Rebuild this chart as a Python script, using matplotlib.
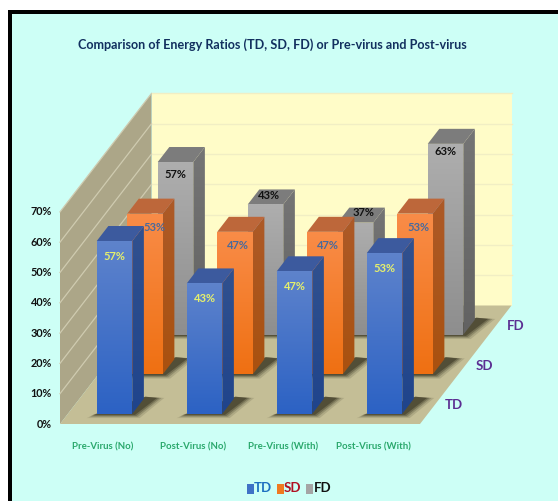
import numpy as np
import matplotlib
matplotlib.use("Agg")
import matplotlib.pyplot as plt
from matplotlib.patches import Polygon, Rectangle
from matplotlib.colors import LinearSegmentedColormap

categories = ["Pre-Virus (No)", "Post-Virus (No)", "Pre-Virus (With)", "Post-Virus (With)"]
series_names = ["TD", "SD", "FD"]
td_values = [57, 43, 47, 53]
sd_values = [53, 47, 47, 53]
fd_values = [57, 43, 37, 63]
y_ticks = [0, 10, 20, 30, 40, 50, 60, 70]
title = "Comparison of Energy Ratios (TD, SD, FD) or Pre-virus and Post-virus"

plt.rcParams["font.family"] = ["Lato", "DejaVu Sans"]
plt.rcParams["font.weight"] = "bold"

W, H = 558, 501
fig = plt.figure(figsize=(W / 100, H / 100), dpi=100, facecolor="white")
ax = fig.add_axes([0, 0, 1, 1])
ax.axis("off")

X0, Y0, CAT_W, DEPTH_X, DEPTH_Y, PCT = 60, 424, 90, 30.5, 39.5, 3.03
VMAX = 70


def P(c, d, v=0):
    return (X0 + c * CAT_W + d * DEPTH_X, Y0 - d * DEPTH_Y - v * PCT)


def poly(pts, color, z, **kw):
    p = Polygon(pts, closed=True, facecolor=color, edgecolor="none", zorder=z, **kw)
    ax.add_patch(p)
    return p


def grad_poly(pts, top, bottom, z):
    p = poly(pts, "none", z)
    pts = np.array(pts)
    cmap = LinearSegmentedColormap.from_list("g", [top, bottom])
    im = ax.imshow(np.linspace(0, 1, 128).reshape(-1, 1), cmap=cmap, aspect="auto",
                   extent=(pts[:, 0].min(), pts[:, 0].max(), pts[:, 1].max(), pts[:, 1].min()),
                   origin="upper", zorder=z, interpolation="bilinear")
    im.set_clip_path(p)


# background and frame
ax.add_patch(Rectangle((8, 10), W, H, facecolor="#cdfff6", edgecolor="none", zorder=0))
ax.add_patch(Rectangle((8, 10), W, 4, facecolor="black", edgecolor="none", zorder=1))
ax.add_patch(Rectangle((8, 10), 3.5, H, facecolor="black", edgecolor="none", zorder=1))

# walls and floor
poly([P(0, 3, 0), P(4, 3, 0), P(4, 3, VMAX), P(0, 3, VMAX)], "#fffcc8", 2)
poly([P(0, 0, 0), P(0, 3, 0), P(0, 3, VMAX), P(0, 0, VMAX)], "#aca688", 2)
poly([P(0, 0, 0), P(4, 0, 0), P(4, 3, 0), P(0, 3, 0)], "#c4be96", 3)
for t in y_ticks:
    a, b, c = P(0, 0, t), P(0, 3, t), P(4, 3, t)
    if t > 0:
        ax.plot([a[0], b[0]], [a[1], b[1]], color="#cfcbb0", lw=0.9, zorder=2.5)
        ax.plot([b[0], c[0]], [b[1], c[1]], color="#f1eec4", lw=1.0, zorder=2.5)
    ax.text(a[0] - 8, a[1], f"{t}%", ha="right", va="center",
            fontsize=7.8, color="#111111", zorder=30)

BAR_C, BAR_W, BAR_D0, BAR_D = 0.32, 0.395, 0.26, 0.38
styles = {
    "TD": dict(front=("#5e83cc", "#2c62c4"), side=("#31518f", "#1f448c"), top="#3c5a9e", text="#e6f06c"),
    "SD": dict(front=("#f98c48", "#ef7012"), side=("#ad5a28", "#a9510f"), top="#bd673a", text="#4a6a9c"),
    "FD": dict(front=("#aeaeae", "#8e8e8e"), side=("#757575", "#626262"), top="#7c7c7c", text="#111111"),
}
label_drop = {"TD": 15, "SD": 14, "FD": 14}
label_nudge = {("SD", 0): (9, 0), ("FD", 0): (0, -2), ("FD", 1): (3, -23), ("FD", 2): (8, -24),
               ("FD", 3): (0, -6), ("SD", 1): (3, 0), ("SD", 2): (3, 0), ("SD", 3): (3, 0)}
rows = [("FD", 2, fd_values), ("SD", 1, sd_values), ("TD", 0, td_values)]

z = 5.0
for name, depth, values in rows:
    st = styles[name]
    d0, d1 = depth + BAR_D0, depth + BAR_D0 + BAR_D
    for i, v in enumerate(values):
        c0, c1 = i + BAR_C, i + BAR_C + BAR_W
        # soft floor shadow
        for grow, alpha in [(0.09, 0.14), (0.06, 0.22), (0.035, 0.32), (0.01, 0.45)]:
            poly([P(c0 - 0.03 - grow * 0.5, d0 - 0.02 - grow), P(c1 + 0.03 + grow, d0 - 0.02 - grow),
                  P(c1 + 0.13 + grow, d1 + 0.02), P(c1, d1 + 0.05)],
                 "#2e2a18", z, alpha=alpha)
        z += 0.1
        grad_poly([P(c1, d0, 0), P(c1, d1, 0), P(c1, d1, v), P(c1, d0, v)], st["side"][0], st["side"][1], z)
        poly([P(c0, d0, v), P(c1, d0, v), P(c1, d1, v), P(c0, d1, v)], st["top"], z + 0.01)
        grad_poly([P(c0, d0, 0), P(c1, d0, 0), P(c1, d0, v), P(c0, d0, v)], st["front"][0], st["front"][1], z + 0.02)
        lx, ly = P((c0 + c1) / 2, d0, v)
        nx, ny = label_nudge.get((name, i), (0, 0))
        ax.text(lx + nx, ly + label_drop[name] + ny, f"{v}%", ha="center", va="center",
                fontsize=8, color=st["text"], zorder=29)
        z += 0.1

# category and depth labels
for i, cat in enumerate(categories):
    ax.text(P(i + 0.5, 0)[0] - 2, 447, cat, ha="center", va="center", fontsize=6.9,
            color="#2aa86c", zorder=30)
for d, name in enumerate(series_names):
    px, py = P(4, d + 0.5)
    ax.text(px + 19, py + 1, name, ha="center", va="center", fontsize=9.5,
            color="#5b2e92", zorder=30)

ax.text(272, 45, title, ha="center", va="center", fontsize=9.1, color="#12305f", zorder=30)

# legend
leg = [("TD", "#3f72c6", "#1d6fc0", 250, 262.5), ("SD", "#f07a20", "#b01022", 280, 292.5),
       ("FD", "#a5a5a5", "#111111", 309.5, 322.5)]
for name, col, tc, sx, tx in leg:
    ax.add_patch(Rectangle((sx - 3.5, 484), 7, 10, facecolor=col, edgecolor="none", zorder=30))
    ax.text(tx, 488, name, ha="center", va="center", fontsize=9.5, color=tc, zorder=30)

ax.set_xlim(0, W)
ax.set_ylim(H, 0)
fig.savefig("out.png", dpi=100, facecolor="white")
